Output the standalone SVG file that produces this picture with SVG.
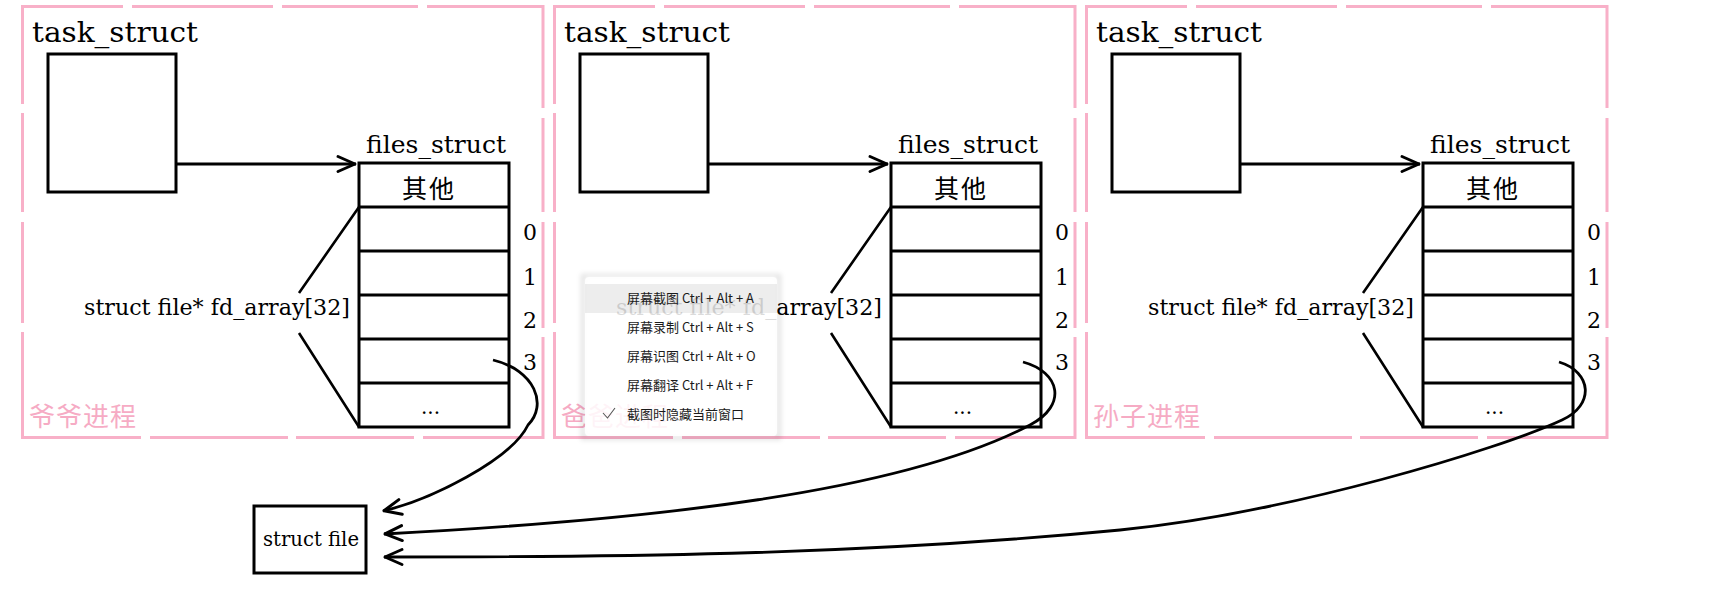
<svg xmlns="http://www.w3.org/2000/svg" width="1724" height="598" viewBox="0 0 1724 598">
<style>
.bx{fill:none;stroke:#000;stroke-width:3}
.ln{fill:none;stroke:#000;stroke-width:2.6}
.pk{fill:none;stroke:#f8b0c8;stroke-width:3}
.se{font-family:"DejaVu Serif","Noto Sans CJK SC",serif;fill:#000}
.cj{font-family:"Noto Sans CJK SC",sans-serif;fill:#000}
.lbl{font-family:"Noto Sans CJK SC",sans-serif;fill:#f6abc4;font-size:26px;letter-spacing:1px}
.cn{fill:none;stroke:#000;stroke-width:2.8}
.m{font-family:"Noto Sans CJK SC",sans-serif;font-size:13px;fill:#1b1b1b}
</style>
<defs>
<marker id="ah" markerUnits="userSpaceOnUse" markerWidth="40" markerHeight="40" viewBox="-25 -20 40 40" refX="1" refY="0" orient="auto">
<path d="M-17,-7.5 L0,0 L-17,7.5" fill="none" stroke="#000" stroke-width="3" stroke-linecap="round" stroke-linejoin="round"/>
</marker>
<filter id="blur" x="-10%" y="-10%" width="120%" height="120%"><feGaussianBlur stdDeviation="2.5"/></filter>
</defs>
<rect width="1724" height="598" fill="#fff"/>

<g id="panel-grandpa">
<path class="pk" d="M21,6.5H123M132,6.5H273M282,6.5H418M427,6.5H544.5M21,437.5H141M150,437.5H288M296,437.5H414M423,437.5H544.5M22.5,5V104M22.5,113V212M22.5,222V323M22.5,332V439M543,5V108M543,118V212M543,222V328M543,337V439"/>
<g id="task1"><text class="se" x="32" y="42" font-size="28" textLength="166" lengthAdjust="spacingAndGlyphs">task_struct</text><rect class="bx" x="48" y="54" width="128" height="138"/></g>
<g id="files1">
<text class="se" x="366" y="153" font-size="24" textLength="140" lengthAdjust="spacingAndGlyphs">files_struct</text>
<rect class="bx" x="359" y="163" width="150" height="264"/>
<path class="bx" d="M359,207H509M359,251H509M359,295H509M359,339H509M359,383H509"/>
<text class="cj" x="402" y="198" font-size="25" letter-spacing="2">其他</text>
<text class="se" x="421" y="414" font-size="20" textLength="19">...</text>
<g class="se" font-size="22"><text x="523" y="240">0</text><text x="523" y="285">1</text><text x="523" y="328">2</text><text x="523" y="370">3</text></g>
<path class="ln" d="M359,207L299,293M299,333L359,427"/>
<text class="se" x="84" y="315" font-size="22" textLength="266" lengthAdjust="spacingAndGlyphs">struct file* fd_array[32]</text>
</g>
<text class="lbl" x="29" y="426">爷爷进程</text>
</g>

<g id="panel-father" transform="translate(532,0)">
<path class="pk" d="M21,6.5H123M132,6.5H273M282,6.5H418M427,6.5H544.5M21,437.5H141M150,437.5H288M296,437.5H414M423,437.5H544.5M22.5,5V104M22.5,113V212M22.5,222V323M22.5,332V439M543,5V108M543,118V212M543,222V328M543,337V439"/>
<g id="task2"><text class="se" x="32" y="42" font-size="28" textLength="166" lengthAdjust="spacingAndGlyphs">task_struct</text><rect class="bx" x="48" y="54" width="128" height="138"/></g>
<g id="files2">
<text class="se" x="366" y="153" font-size="24" textLength="140" lengthAdjust="spacingAndGlyphs">files_struct</text>
<rect class="bx" x="359" y="163" width="150" height="264"/>
<path class="bx" d="M359,207H509M359,251H509M359,295H509M359,339H509M359,383H509"/>
<text class="cj" x="402" y="198" font-size="25" letter-spacing="2">其他</text>
<text class="se" x="421" y="414" font-size="20" textLength="19">...</text>
<g class="se" font-size="22"><text x="523" y="240">0</text><text x="523" y="285">1</text><text x="523" y="328">2</text><text x="523" y="370">3</text></g>
<path class="ln" d="M359,207L299,293M299,333L359,427"/>
<text class="se" x="84" y="315" font-size="22" textLength="266" lengthAdjust="spacingAndGlyphs">struct file* fd_array[32]</text>
</g>
<text class="lbl" x="29" y="426">爸爸进程</text>
</g>

<g id="panel-grandson" transform="translate(1064,0)">
<path class="pk" d="M21,6.5H123M132,6.5H273M282,6.5H418M427,6.5H544.5M21,437.5H141M150,437.5H288M296,437.5H414M423,437.5H544.5M22.5,5V104M22.5,113V212M22.5,222V323M22.5,332V439M543,5V108M543,118V212M543,222V328M543,337V439"/>
<g id="task3"><text class="se" x="32" y="42" font-size="28" textLength="166" lengthAdjust="spacingAndGlyphs">task_struct</text><rect class="bx" x="48" y="54" width="128" height="138"/></g>
<g id="files3">
<text class="se" x="366" y="153" font-size="24" textLength="140" lengthAdjust="spacingAndGlyphs">files_struct</text>
<rect class="bx" x="359" y="163" width="150" height="264"/>
<path class="bx" d="M359,207H509M359,251H509M359,295H509M359,339H509M359,383H509"/>
<text class="cj" x="402" y="198" font-size="25" letter-spacing="2">其他</text>
<text class="se" x="421" y="414" font-size="20" textLength="19">...</text>
<g class="se" font-size="22"><text x="523" y="240">0</text><text x="523" y="285">1</text><text x="523" y="328">2</text><text x="523" y="370">3</text></g>
<path class="ln" d="M359,207L299,293M299,333L359,427"/>
<text class="se" x="84" y="315" font-size="22" textLength="266" lengthAdjust="spacingAndGlyphs">struct file* fd_array[32]</text>
</g>
<text class="lbl" x="29" y="426">孙子进程</text>
</g>

<g id="struct-file">
<rect class="bx" x="254" y="506" width="112" height="67"/>
<text class="se" x="263" y="546" font-size="20" textLength="96" lengthAdjust="spacingAndGlyphs">struct file</text>
</g>

<g id="connectors">
<path class="cn" d="M176,164H356" marker-end="url(#ah)"/>
<path class="cn" d="M708,164H888" marker-end="url(#ah)"/>
<path class="cn" d="M1240,164H1420" marker-end="url(#ah)"/>
<path class="cn" d="M493,360C535,370 548,405 528,425C511,460 430,500 383,511" marker-end="url(#ah)"/>
<path class="cn" d="M1023,362C1060,372 1068,405 1030,425C900,493 650,520 384,534" marker-end="url(#ah)"/>
<path class="cn" d="M1559,362C1592,372 1595,405 1562,420C1500,449 1290,513 1120,530C850,556 600,557 384,557" marker-end="url(#ah)"/>
</g>

<g id="context-menu">
<path d="M581,274H781V440H581Z M585,277V436H777V277Z" fill-rule="evenodd" fill="#000" fill-opacity="0.12" filter="url(#blur)"/>
<rect x="585" y="277" width="192" height="159" rx="4" fill="#fff" fill-opacity="0.86"/>
<rect x="585" y="284" width="192" height="29" fill="#000" fill-opacity="0.07"/>
<text class="m" x="627" y="303">屏幕截图 Ctrl + Alt + A</text>
<text class="m" x="627" y="332">屏幕录制 Ctrl + Alt + S</text>
<text class="m" x="627" y="361">屏幕识图 Ctrl + Alt + O</text>
<text class="m" x="627" y="390">屏幕翻译 Ctrl + Alt + F</text>
<polyline points="603,413 607.5,418 615,408" fill="none" stroke="#555" stroke-width="1.1"/>
<text class="m" x="627" y="419">截图时隐藏当前窗口</text>
</g>
</svg>
